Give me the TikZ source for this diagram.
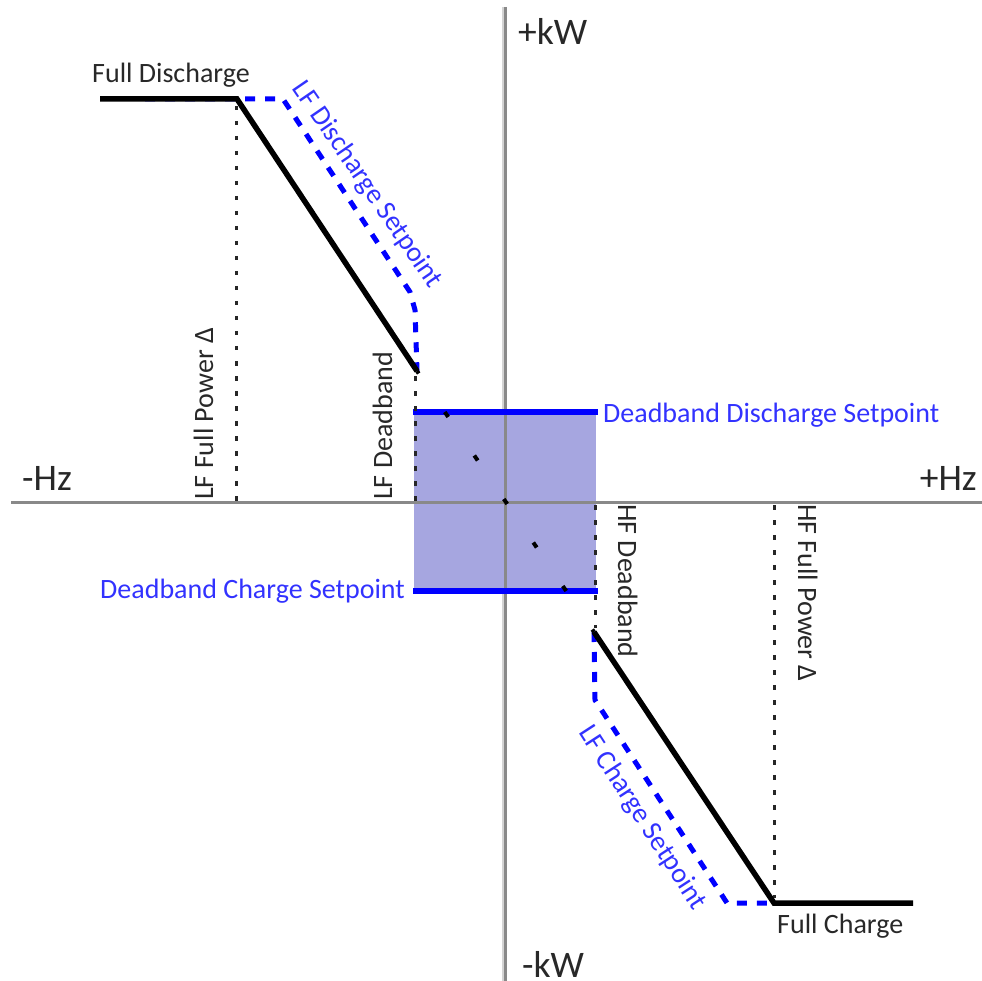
\documentclass[tikz,border=0pt]{standalone}
\usepackage{fontspec}
\setmainfont{Carlito}
\definecolor{axisgray}{RGB}{137,137,137}
\definecolor{axislight}{RGB}{212,212,212}
\definecolor{setblue}{RGB}{0,0,255}
\definecolor{textblue}{RGB}{50,50,255}
\definecolor{labelgray}{RGB}{40,40,40}
\definecolor{bandfill}{RGB}{166,166,224}
\begin{document}
\begin{tikzpicture}[x=1pt,y=-1pt,
  axisline/.style={draw=axisgray, line width=3pt},
  droop/.style={draw=black, line width=5.5pt},
  setline/.style={draw=setblue, line width=5pt, dash pattern=on 10pt off 10pt},
  bandline/.style={draw=setblue, line width=6pt},
  guide/.style={draw=black!85, line width=3pt, dash pattern=on 4.5pt off 10.5pt},
  lbl/.style={font=\fontsize{28}{30}\selectfont, text=labelgray, inner sep=0pt},
  blbl/.style={font=\fontsize{28}{30}\selectfont, text=textblue, inner sep=0pt},
  axlbl/.style={font=\fontsize{37.5}{40}\selectfont, text=labelgray, inner sep=0pt}]
\useasboundingbox (0,0) rectangle (982,981);

% key points
\coordinate (fdL) at (100,99);
\coordinate (fdR) at (237,99);
\coordinate (dbL) at (417,371);
\coordinate (dbR) at (594,632);
\coordinate (fcL) at (774,903);
\coordinate (fcR) at (913,903);
\coordinate (bu0) at (145,99);
\coordinate (bu1) at (283,99);
\coordinate (bu2) at (410,292);
\coordinate (bu3) at (415,310);
\coordinate (bl1) at (595,700);
\coordinate (bl2) at (727,903);
\coordinate (g1) at (236,503);
\coordinate (g1t) at (236,106);
\coordinate (g2) at (415,503);
\coordinate (g2t) at (415,376);
\coordinate (g3) at (595,505);
\coordinate (g3b) at (595,628);
\coordinate (g4) at (774,505);
\coordinate (g4b) at (774,898);
\coordinate (axT) at (505.5,7);
\coordinate (axB) at (505.5,981);
\coordinate (axL) at (11,502.5);
\coordinate (axR) at (982,502.5);

% light edge of the vertical axis
\draw[draw=axislight, line width=3pt] (503,7) -- (503,981);

% deadband area
\fill[bandfill] (414,411) rectangle (596,591);

% axes
\draw[axisline] (axT) -- (axB);
\draw[axisline] (axL) -- (axR);

% setpoint curves
\draw[setline] (bu0) -- (bu1) -- (bu2) -- (bu3) -- (dbL);
\draw[setline] (dbR) -- (bl1) -- (bl2) -- (fcL);

% band lines
\draw[bandline] (413,412) -- (598,412);
\draw[bandline] (413,591) -- (598,591);

% guides
\draw[guide] (g1t) -- (g1);
\draw[guide] (g2t) -- (g2);
\draw[guide] (g3) -- (g3b);
\draw[guide] (g4) -- (g4b);

% droop line through deadband
\draw[draw=black, line width=4pt, dash pattern=on 6pt off 46.56pt, dash phase=3pt] (dbL) -- (dbR);

% droop curves
\draw[droop] (fdL) -- (fdR) -- (dbL);
\draw[droop] (dbR) -- (fcL) -- (fcR);

% labels
\node[lbl, anchor=base west] (tFD) at (92,83) {Full Discharge};
\node[lbl, anchor=base west] (tFC) at (777,933) {Full Charge};
\node[axlbl, anchor=base west] (tmHz) at (22,490) {-Hz};
\node[axlbl, anchor=base east] (tpHz) at (977,490) {+Hz};
\node[axlbl, anchor=base west] (tpkW) at (518,45) {+kW};
\node[axlbl, anchor=base west] (tmkW) at (522,977) {-kW};
\node[blbl, anchor=base west] (tDDS) at (603,422) {Deadband Discharge Setpoint};
\node[blbl, anchor=base east] (tDCS) at (405,598) {Deadband Charge Setpoint};
\node[lbl, rotate=90, anchor=base west] (tLFP) at (213,500) {LF Full Power Δ};
\node[lbl, rotate=90, anchor=base west] (tLFD) at (392,500) {LF Deadband};
\node[lbl, rotate=-90, anchor=base west] (tHFD) at (618,504) {HF Deadband};
\node[lbl, rotate=-90, anchor=base west] (tHFP) at (798,504) {HF Full Power Δ};
\node[blbl, rotate=-55.5] (tLFDS) at (367,185) {LF Discharge Setpoint};
\node[blbl, rotate=-57] (tLFCS) at (642,818) {LF Charge Setpoint};
\end{tikzpicture}
\end{document}
